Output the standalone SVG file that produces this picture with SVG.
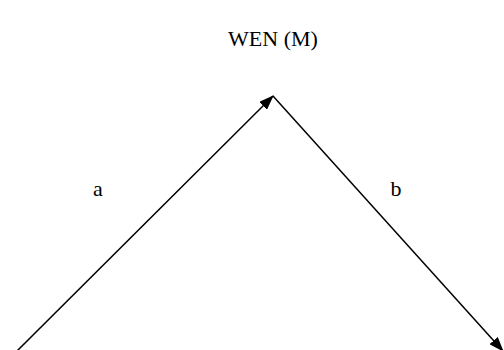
<svg xmlns="http://www.w3.org/2000/svg" width="504" height="350" viewBox="0 0 504 350">
<style>
text{font-family:'Liberation Serif','Times New Roman',Times,serif;font-size:22px;fill:#000}
.c{stroke:#000;stroke-width:1.5;fill:none}
</style>
<defs>
<marker id="ah" markerWidth="15" markerHeight="11" refX="14" refY="5.5" orient="auto" markerUnits="userSpaceOnUse">
<path d="M0,0 L15,5.5 L0,11 Z" fill="#000"/>
</marker>
</defs>
<rect width="504" height="350" fill="#fff"/>
<g id="title"><text x="273" y="46" text-anchor="middle" font-family="Liberation Serif, serif">WEN (M)</text></g>
<g id="label-a"><text x="98" y="196" text-anchor="middle" font-family="Liberation Serif, serif">a</text></g>
<g id="label-b"><text x="396" y="196" text-anchor="middle" font-family="Liberation Serif, serif">b</text></g>
<g id="connectors">
<line class="c" x1="15" y1="353" x2="273" y2="96" marker-end="url(#ah)"/>
<line class="c" x1="273" y1="96" x2="503" y2="351" marker-end="url(#ah)"/>
</g>
</svg>
